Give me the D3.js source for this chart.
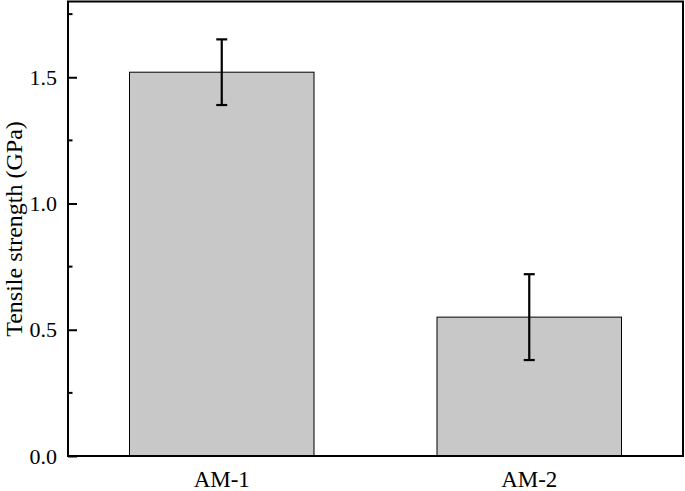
<!DOCTYPE html>
<html>
<head>
<meta charset="utf-8">
<script src="https://cdn.jsdelivr.net/npm/d3@7"></script>
<style>
  body { margin: 0; background: #fff; }
  svg text { font-family: "Liberation Serif", "Times New Roman", serif; fill: #000; }
</style>
</head>
<body>
<svg id="chart"></svg>
<script>
// chart data
const categories = ['AM-1', 'AM-2'];
const strength = [1.52, 0.55];
const errLow = [1.39, 0.38];
const errHigh = [1.65, 0.72];
const yTicks = [0.0, 0.5, 1.0, 1.5];
const yMinorTicks = [0.25, 0.75, 1.25, 1.75];

const width = 685, height = 491;
const margin = {top: 1.5, right: 2, bottom: 35, left: 68};
const innerW = width - margin.left - margin.right;
const innerH = height - margin.top - margin.bottom;

const svg = d3.select('#chart')
    .attr('width', width)
    .attr('height', height);

const chart = svg.append('g')
    .attr('transform', `translate(${margin.left},${margin.top})`);

const xScale = d3.scaleBand()
    .domain(categories)
    .range([0, innerW])
    .paddingInner(0.4)
    .paddingOuter(0.2);

const yScale = d3.scaleLinear()
    .domain([0, 1.8])
    .range([innerH, 0]);

// bars
chart.selectAll('.bar')
    .data(categories)
    .join('rect')
    .attr('class', 'bar')
    .attr('x', d => xScale(d))
    .attr('width', xScale.bandwidth())
    .attr('y', (d, i) => yScale(strength[i]))
    .attr('height', (d, i) => innerH - yScale(strength[i]))
    .attr('fill', '#c8c8c8')
    .attr('stroke', '#000')
    .attr('stroke-width', 1);

// error bars
const errG = chart.selectAll('.err')
    .data(categories)
    .join('g')
    .attr('class', 'err')
    .attr('transform', d => `translate(${xScale(d) + xScale.bandwidth() / 2},0)`)
    .attr('stroke', '#000')
    .attr('stroke-width', 2.2);

errG.append('line')
    .attr('y1', (d, i) => yScale(errLow[i]))
    .attr('y2', (d, i) => yScale(errHigh[i]));
errG.append('line')
    .attr('x1', -5.5).attr('x2', 5.5)
    .attr('y1', (d, i) => yScale(errLow[i]))
    .attr('y2', (d, i) => yScale(errLow[i]));
errG.append('line')
    .attr('x1', -5.5).attr('x2', 5.5)
    .attr('y1', (d, i) => yScale(errHigh[i]))
    .attr('y2', (d, i) => yScale(errHigh[i]));

// frame
chart.append('rect')
    .attr('width', innerW)
    .attr('height', innerH)
    .attr('fill', 'none')
    .attr('stroke', '#000')
    .attr('stroke-width', 2);

// y axis: inward ticks
const yAxis = d3.axisLeft(yScale)
    .tickValues(yTicks)
    .tickFormat(d3.format('.1f'))
    .tickSize(-9)
    .tickPadding(11);

const yAxisG = chart.append('g')
    .attr('class', 'axis y-axis')
    .call(yAxis);
yAxisG.select('.domain').remove();
yAxisG.selectAll('line').attr('stroke-width', 2);
yAxisG.selectAll('text')
    .style('font-size', '22px');

chart.append('g')
    .selectAll('line')
    .data(yMinorTicks)
    .join('line')
    .attr('x1', 0).attr('x2', 4.5)
    .attr('y1', d => yScale(d)).attr('y2', d => yScale(d))
    .attr('stroke', '#000')
    .attr('stroke-width', 2);

// x axis labels
const xAxis = d3.axisBottom(xScale).tickSize(0).tickPadding(15);
const xAxisG = chart.append('g')
    .attr('class', 'axis x-axis')
    .attr('transform', `translate(0,${innerH})`)
    .call(xAxis);
xAxisG.select('.domain').remove();
xAxisG.selectAll('text').style('font-size', '23px');

// y label
svg.append('text')
    .attr('transform', `translate(22,229) rotate(-90)`)
    .attr('text-anchor', 'middle')
    .style('font-size', '24px')
    .text('Tensile strength (GPa)');
</script>
</body>
</html>
